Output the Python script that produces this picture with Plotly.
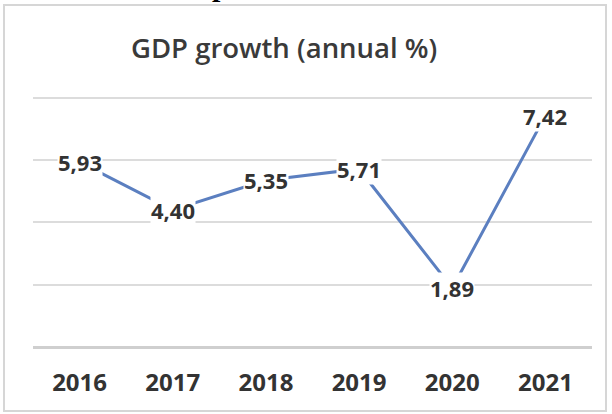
import plotly.graph_objects as go

years = ["2016", "2017", "2018", "2019", "2020", "2021"]
growth = [5.93, 4.40, 5.35, 5.71, 1.89, 7.42]
labels = ["5,93", "4,40", "5,35", "5,71", "1,89", "7,42"]
y_ticks = [0, 2, 4, 6, 8]

W, H = 612, 414
L, R, T, B = 33, 20, 96, 67
pw, ph = W - L - R, H - T - B

def px(x):
    return (x - L) / pw

def py(y):
    return (H - B - y) / ph

idx = list(range(len(years)))

fig = go.Figure()
fig.add_trace(go.Scatter(
    x=idx, y=growth, mode="lines",
    line=dict(color="#5b7fc0", width=3),
    hoverinfo="skip", showlegend=False,
))

for i, v, lab in zip(idx, growth, labels):
    fig.add_annotation(
        x=i, y=v, xref="x", yref="y", text=lab, showarrow=False,
        xanchor="center", yanchor="middle",
        font=dict(family="Open Sans", size=22, color="#333333", weight="bold"),
        bgcolor="white", borderpad=0,
    )

fig.add_annotation(
    x=px(129), y=py(48), xref="paper", yref="paper",
    text="GDP growth (annual %)", showarrow=False,
    xanchor="left", yanchor="middle",
    font=dict(family="Open Sans", size=27.5, color="#3a3a3a", weight=600),
)

# fragment of the surrounding document text, cut by the page edge
fig.add_annotation(
    x=px(220), y=py(3), xref="paper", yref="paper",
    text="p", showarrow=False, xanchor="center", yanchor="bottom",
    font=dict(family="Liberation Serif", size=30, color="#000000", weight="bold"),
    borderpad=0,
)

# chart border
fig.add_shape(type="rect", xref="paper", yref="paper",
              x0=px(4), x1=px(606), y0=py(411), y1=py(5),
              line=dict(color="#d6d6d6", width=2), fillcolor="rgba(0,0,0,0)",
              layer="below")

fig.update_layout(
    width=W, height=H,
    margin=dict(l=L, r=R, t=T, b=B, autoexpand=False),
    paper_bgcolor="white", plot_bgcolor="white",
    xaxis=dict(
        range=[-0.5, len(years) - 0.5],
        tickvals=idx, ticktext=years,
        showgrid=False, zeroline=False, showline=False,
        ticks="outside", ticklen=14, tickcolor="rgba(0,0,0,0)",
        tickfont=dict(family="Open Sans", size=24, color="#333333", weight="bold"),
        fixedrange=True,
    ),
    yaxis=dict(
        range=[0, 8.05], tickvals=y_ticks, showticklabels=False,
        showgrid=True, gridcolor="#dcdcdc", gridwidth=2,
        zeroline=True, zerolinecolor="#cfcfcf", zerolinewidth=3,
        showline=False, fixedrange=True,
    ),
)

fig.write_html("out.html", config={"displayModeBar": False},
               post_script="document.body.style.margin='0';")
